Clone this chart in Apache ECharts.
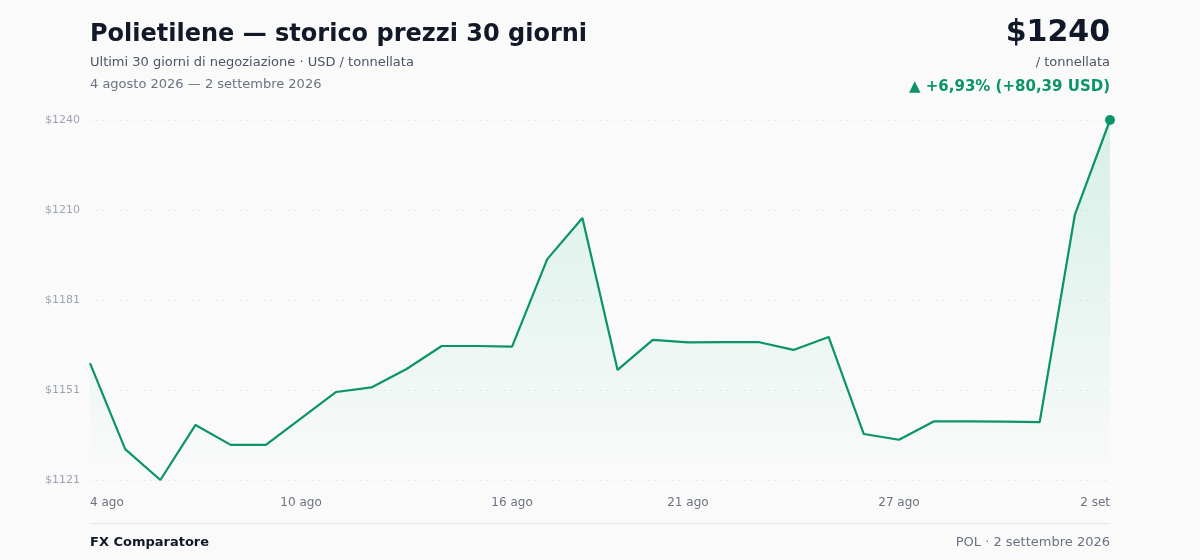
<!DOCTYPE html>
<html lang="it">
<head>
<meta charset="UTF-8">
<title>Polietilene</title>
<style>
  html, body { margin: 0; padding: 0; background: #fafafa; }
  #main { width: 1200px; height: 560px; }
</style>
</head>
<body>
<div id="main"></div>
<script src="https://cdn.jsdelivr.net/npm/echarts@6/dist/echarts.min.js"></script>
<script>
// giorni (4 agosto - 2 settembre 2026)
const days = ['4 ago','5 ago','6 ago','7 ago','8 ago','9 ago','10 ago','11 ago','12 ago','13 ago',
  '14 ago','15 ago','16 ago','17 ago','18 ago','19 ago','20 ago','21 ago','22 ago','23 ago',
  '24 ago','25 ago','26 ago','27 ago','28 ago','29 ago','30 ago','31 ago','1 set','2 set'];
// prezzo USD / tonnellata
const prices = [1159.61, 1131.2, 1121.0, 1139.2, 1132.6, 1132.6, 1141.4, 1150.1, 1151.6, 1157.7,
  1165.3, 1165.3, 1165.1, 1194.0, 1207.6, 1157.4, 1167.3, 1166.5, 1166.6, 1166.6,
  1164.0, 1168.3, 1136.2, 1134.3, 1140.4, 1140.4, 1140.3, 1140.1, 1208.6, 1240.0];
const shownLabels = [0, 6, 12, 17, 23, 29];
const yMin = 1121, yMax = 1240;

const green = '#0a9468';
const chart = echarts.init(document.getElementById('main'));

const seriesData = prices.map((v, i) => i === prices.length - 1
  ? { value: v, symbol: 'circle', symbolSize: 10, itemStyle: { color: green } }
  : v);

const option = {
  backgroundColor: '#fafafa',
  animation: false,
  grid: { left: 90, right: 90, top: 120, bottom: 80 },
  xAxis: {
    type: 'category',
    boundaryGap: false,
    data: days,
    axisLine: { show: false },
    axisTick: { show: false },
    axisLabel: {
      interval: (i) => shownLabels.includes(i),
      margin: 17,
      color: '#6b7280',
      fontFamily: 'DejaVu Sans',
      fontSize: 12,
      alignMinLabel: 'left',
      alignMaxLabel: 'right'
    }
  },
  yAxis: {
    type: 'value',
    min: yMin,
    max: yMax,
    interval: (yMax - yMin) / 4,
    axisLine: { show: false },
    axisTick: { show: false },
    splitLine: { lineStyle: { color: '#e8eaee', type: [2, 4] } },
    axisLabel: {
      margin: 10,
      color: '#9ca3af',
      fontFamily: 'DejaVu Sans',
      fontSize: 11,
      formatter: (v) => '$' + Math.round(v)
    }
  },
  series: [{
    type: 'line',
    data: seriesData,
    symbol: 'none',
    showSymbol: true,
    lineStyle: { color: green, width: 2.2 },
    itemStyle: { color: green },
    areaStyle: {
      color: new echarts.graphic.LinearGradient(0, 0, 0, 1, [
        { offset: 0, color: 'rgba(16,185,129,0.22)' },
        { offset: 1, color: 'rgba(16,185,129,0.0)' }
      ])
    }
  }],
  graphic: [
    { type: 'text', left: 90, top: 23, style: { text: 'Polietilene — storico prezzi 30 giorni', font: 'bold 24px "DejaVu Sans"', fill: '#111827' } },
    { type: 'text', left: 90, top: 56, style: { text: 'Ultimi 30 giorni di negoziazione · USD / tonnellata', font: '13px "DejaVu Sans"', fill: '#4b5563' } },
    { type: 'text', left: 90, top: 78, style: { text: '4 agosto 2026 — 2 settembre 2026', font: '13px "DejaVu Sans"', fill: '#6b7280' } },
    { type: 'text', right: 90, top: 18, style: { text: '$1240', font: 'bold 30px "DejaVu Sans"', fill: '#111827', align: 'right' } },
    { type: 'text', right: 90, top: 56, style: { text: '/ tonnellata', font: '13px "DejaVu Sans"', fill: '#4b5563', align: 'right' } },
    { type: 'text', right: 90, top: 80, style: { text: '▲ +6,93% (+80,39 USD)', font: 'bold 15px "DejaVu Sans"', fill: green, align: 'right' } },
    { type: 'rect', left: 90, top: 523, shape: { width: 1020, height: 1 }, style: { fill: '#e5e7eb' } },
    { type: 'text', left: 90, top: 536, style: { text: 'FX Comparatore', font: 'bold 13px "DejaVu Sans"', fill: '#111827' } },
    { type: 'text', right: 90, top: 536, style: { text: 'POL · 2 settembre 2026', font: '13px "DejaVu Sans"', fill: '#6b7280', align: 'right' } }
  ]
};
chart.setOption(option);
</script>
</body>
</html>
